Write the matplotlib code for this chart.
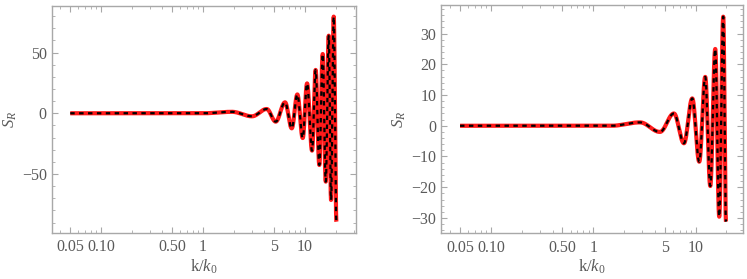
import numpy as np
import matplotlib
matplotlib.use("Agg")
import matplotlib.pyplot as plt
from matplotlib.ticker import FixedLocator, FixedFormatter, MultipleLocator

# ---- data (k/k0, S_R) : start, flat part, extrema, end ----
k_left = [0.05, 0.5, 1.0, 1.92, 3.02, 4.21, 5.16, 6.37, 7.41, 8.41, 9.49, 10.47,
          11.71, 12.7, 13.8, 14.9, 15.96, 17.07, 17.98, 19.1, 20.3]
s_left = [0.0, 0.0, 0.0, 1.2, -2.5, 3.5, -6.9, 9.0, -12.4, 15.5, -20.4, 24.6,
          -30.8, 35.7, -42.6, 48.8, -56.3, 63.9, -71.4, 79.6, -89.3]

k_right = [0.05, 0.5, 1.5, 2.86, 4.48, 6.14, 7.69, 9.27, 10.85, 12.41, 13.9,
           15.54, 17.0, 18.6, 19.8]
s_right = [0.0, 0.0, 0.0, 1.1, -2.0, 4.0, -5.7, 8.9, -11.7, 15.9, -19.6,
           25.0, -29.6, 35.5, -31.2]

xtick_vals = [0.05, 0.10, 0.50, 1, 5, 10]
xtick_labels = ["0.05", "0.10", "0.50", "1", "5", "10"]
ytick_left = [-50, 0, 50]
ytick_right = [-30, -20, -10, 0, 10, 20, 30]

GRAY = "#5a5a5a"
FRAME = "#a8a8a8"


def smooth(k, s, n=60):
    """Draw a smooth line through the read points (half-cosine easing in log k)."""
    lk = np.log10(k)
    xs, ys = [], []
    for i in range(len(k) - 1):
        t = np.linspace(0, 1, n, endpoint=False)
        w = (1 - np.cos(np.pi * t)) / 2
        xs.append(10 ** (lk[i] + (lk[i + 1] - lk[i]) * t))
        ys.append(s[i] + (s[i + 1] - s[i]) * w)
    xs.append([k[-1]])
    ys.append([s[-1]])
    return np.concatenate(xs), np.concatenate(ys)


plt.rcParams["font.family"] = ["Liberation Serif", "DejaVu Serif"]
plt.rcParams["mathtext.fontset"] = "custom"
plt.rcParams["mathtext.rm"] = "Liberation Serif"
plt.rcParams["mathtext.it"] = "Liberation Serif:italic"

fig = plt.figure(figsize=(7.47, 2.79), dpi=100)
ax1 = fig.add_axes([0.0692, 0.1649, 0.4074, 0.8147])
ax2 = fig.add_axes([0.5904, 0.1638, 0.4042, 0.8182])


def style(ax, ylim, yticks, yminor, xlim):
    ax.set_xscale("log")
    ax.set_xlim(*xlim)
    ax.set_ylim(*ylim)
    ax.xaxis.set_major_locator(FixedLocator(xtick_vals))
    ax.xaxis.set_major_formatter(FixedFormatter(xtick_labels))
    minors = []
    for dec in [0.01, 0.1, 1, 10]:
        for m in range(1, 10):
            v = m * dec
            if v not in xtick_vals:
                minors.append(v)
    ax.xaxis.set_minor_locator(FixedLocator(minors))
    ax.xaxis.set_minor_formatter(FixedFormatter([""] * len(minors)))
    ax.yaxis.set_major_locator(FixedLocator(yticks))
    ax.yaxis.set_minor_locator(MultipleLocator(yminor))
    ax.yaxis.set_major_formatter(FixedFormatter(
        [("\u2212%d" % -v) if v < 0 else "%d" % v for v in yticks]))
    for sp in ax.spines.values():
        sp.set_color(FRAME)
        sp.set_linewidth(1.0)
    ax.tick_params(which="both", direction="in", top=True, right=True,
                   colors=FRAME, labelcolor=GRAY, labelsize=11.5)
    ax.tick_params(which="major", length=4, width=0.8)
    ax.tick_params(which="minor", length=2.2, width=0.6)
    ax.tick_params(axis="x", which="major", pad=4.5)
    ax.set_xlabel(r"k/$k_0$", color=GRAY, fontsize=12, labelpad=1.5)
    ax.set_ylabel(r"$S_R$", color=GRAY, fontsize=12, labelpad=2)


for ax, k, s in [(ax1, k_left, s_left), (ax2, k_right, s_right)]:
    x, y = smooth(np.array(k), np.array(s))
    ax.plot(x, y, color="#ff1a1a", lw=3.0, solid_capstyle="butt", zorder=2)
    ax.plot(x, y, color="black", lw=1.6, dashes=(2.0, 2.0), zorder=3)

style(ax1, (-98.6, 88.6), ytick_left, 10, (0.0329, 31.6))
style(ax2, (-35.0, 39.3), ytick_right, 2, (0.0326, 29.0))

fig.savefig("out.png", dpi=100)
